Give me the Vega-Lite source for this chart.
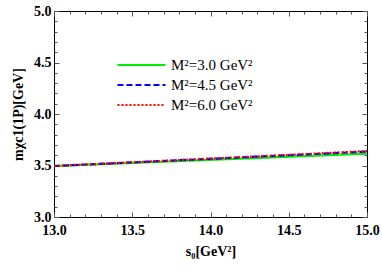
{
  "$schema": "https://vega.github.io/schema/vega-lite/v6.json",
  "width": 313,
  "height": 206,
  "autosize": {"type": "none"},
  "padding": {"left": 54, "top": 11, "right": 15, "bottom": 56},
  "config": {
    "view": {"stroke": "black", "strokeWidth": 1},
    "font": "Liberation Serif",
    "axis": {"grid": false, "domain": false, "tickColor": "#555", "labelFont": "Liberation Serif", "titleFont": "Liberation Serif"}
  },
  "data": {
    "values": [
      {"s0": 13.0, "m": 3.495, "series": "M²=3.0 GeV²"},
      {"s0": 14.0, "m": 3.555, "series": "M²=3.0 GeV²"},
      {"s0": 15.0, "m": 3.615, "series": "M²=3.0 GeV²"},
      {"s0": 13.0, "m": 3.495, "series": "M²=4.5 GeV²"},
      {"s0": 14.0, "m": 3.565, "series": "M²=4.5 GeV²"},
      {"s0": 15.0, "m": 3.635, "series": "M²=4.5 GeV²"},
      {"s0": 13.0, "m": 3.495, "series": "M²=6.0 GeV²"},
      {"s0": 14.0, "m": 3.567, "series": "M²=6.0 GeV²"},
      {"s0": 15.0, "m": 3.64, "series": "M²=6.0 GeV²"}
    ]
  },
  "layer": [
    {
      "mark": {"type": "line", "strokeWidth": 2.2},
      "encoding": {
        "x": {"field": "s0", "type": "quantitative", "scale": {"domain": [13, 15], "nice": false},
          "axis": {"orient": "bottom", "values": [13, 13.5, 14, 14.5, 15], "format": ".1f", "tickSize": -5, "labelFontWeight": "bold", "labelFontSize": 14, "labelColor": "black", "labelPadding": 11, "labelFlush": false,
            "title": "s₀[GeV²]", "titleFontSize": 14, "titleFontWeight": "bold", "titleColor": "black", "titlePadding": 7}},
        "y": {"field": "m", "type": "quantitative", "scale": {"domain": [3, 5], "nice": false, "zero": false},
          "axis": {"orient": "left", "values": [3, 3.5, 4, 4.5, 5], "format": ".1f", "tickSize": -5, "labelFontWeight": "bold", "labelFontSize": 14, "labelColor": "black", "labelPadding": 8,
            "title": "mχc1(1P)[GeV]", "titleFontSize": 14, "titleFontWeight": "bold", "titleColor": "black", "titlePadding": 8}},
        "color": {"field": "series", "type": "nominal",
          "scale": {"domain": ["M²=3.0 GeV²", "M²=4.5 GeV²", "M²=6.0 GeV²"], "range": ["#00ee00", "#0000ff", "#ff0000"]},
          "legend": {"orient": "none", "legendX": 62, "legendY": 46, "title": null, "symbolType": "stroke", "symbolSize": 2304, "symbolStrokeWidth": 2.2, "clipHeight": 16, "labelFontSize": 15, "labelFont": "Liberation Serif", "labelColor": "black", "rowPadding": 4, "labelOffset": 4}},
        "strokeDash": {"field": "series", "type": "nominal",
          "scale": {"domain": ["M²=3.0 GeV²", "M²=4.5 GeV²", "M²=6.0 GeV²"], "range": [[1, 0], [6, 3], [2, 2]]},
          "legend": {"orient": "none", "legendX": 62, "legendY": 46, "title": null, "symbolType": "stroke", "symbolSize": 2304, "symbolStrokeWidth": 2.2, "clipHeight": 16, "labelFontSize": 15, "labelFont": "Liberation Serif", "labelColor": "black", "rowPadding": 4, "labelOffset": 4}}
      }
    },
    {
      "mark": {"type": "point", "opacity": 0},
      "encoding": {
        "x": {"field": "s0", "type": "quantitative", "scale": {"domain": [13, 15], "nice": false},
          "axis": {"orient": "top", "values": [13, 13.5, 14, 14.5, 15], "tickSize": -5, "labels": false, "title": null}},
        "y": {"field": "m", "type": "quantitative", "scale": {"domain": [3, 5], "nice": false, "zero": false},
          "axis": {"orient": "right", "values": [3, 3.5, 4, 4.5, 5], "tickSize": -5, "labels": false, "title": null}}
      }
    },
    {
      "mark": {"type": "point", "opacity": 0},
      "encoding": {
        "x": {"field": "s0", "type": "quantitative", "scale": {"domain": [13, 15], "nice": false},
          "axis": {"orient": "bottom", "values": [13.1, 13.2, 13.3, 13.4, 13.6, 13.7, 13.8, 13.9, 14.1, 14.2, 14.3, 14.4, 14.6, 14.7, 14.8, 14.9], "tickSize": -3, "labels": false, "title": null}},
        "y": {"field": "m", "type": "quantitative", "scale": {"domain": [3, 5], "nice": false, "zero": false},
          "axis": {"orient": "left", "values": [3.1, 3.2, 3.3, 3.4, 3.6, 3.7, 3.8, 3.9, 4.1, 4.2, 4.3, 4.4, 4.6, 4.7, 4.8, 4.9], "tickSize": -3, "labels": false, "title": null}}
      }
    },
    {
      "mark": {"type": "point", "opacity": 0},
      "encoding": {
        "x": {"field": "s0", "type": "quantitative", "scale": {"domain": [13, 15], "nice": false},
          "axis": {"orient": "top", "values": [13.1, 13.2, 13.3, 13.4, 13.6, 13.7, 13.8, 13.9, 14.1, 14.2, 14.3, 14.4, 14.6, 14.7, 14.8, 14.9], "tickSize": -3, "labels": false, "title": null}},
        "y": {"field": "m", "type": "quantitative", "scale": {"domain": [3, 5], "nice": false, "zero": false},
          "axis": {"orient": "right", "values": [3.1, 3.2, 3.3, 3.4, 3.6, 3.7, 3.8, 3.9, 4.1, 4.2, 4.3, 4.4, 4.6, 4.7, 4.8, 4.9], "tickSize": -3, "labels": false, "title": null}}
      }
    }
  ],
  "resolve": {"axis": {"x": "independent", "y": "independent"}}
}
